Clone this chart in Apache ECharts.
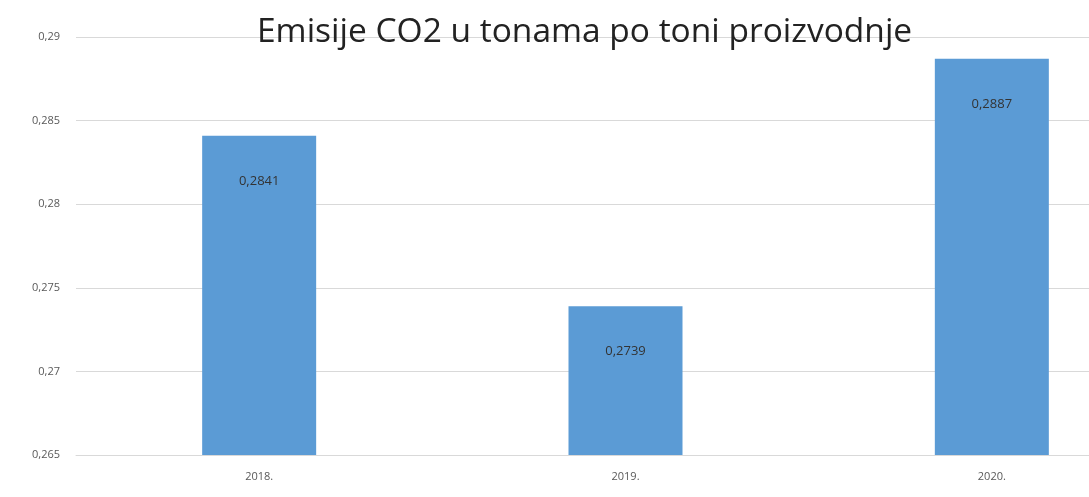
<!DOCTYPE html>
<html>
<head>
<meta charset="utf-8">
<script src="https://cdn.jsdelivr.net/npm/echarts@6/dist/echarts.min.js"></script>
<style>html,body{margin:0;padding:0;background:#fff;}#c{width:1089px;height:497px;}</style>
</head>
<body>
<div id="c"></div>
<script>
const categories = ['2018.', '2019.', '2020.'];
const values = [0.2841, 0.2739, 0.2887];
const titleText = 'Emisije CO2 u tonama po toni proizvodnje';

const fmt = v => String(v).replace('.', ',');
const chart = echarts.init(document.getElementById('c'));
chart.setOption({
  animation: false,
  backgroundColor: '#fff',
  title: {
    text: titleText,
    left: 252,
    top: 10,
    textStyle: { fontFamily: 'Open Sans', fontWeight: 'normal', fontSize: 33.5, color: '#222' }
  },
  grid: { left: 76, width: 1099, top: 37, bottom: 42, containLabel: false, outerBoundsMode: 'none' },
  xAxis: {
    type: 'category',
    data: categories,
    axisLine: { show: true, lineStyle: { color: '#d9d9d9' } },
    axisTick: { show: false },
    axisLabel: { color: '#595959', fontSize: 11, fontFamily: 'Open Sans', margin: 16 }
  },
  yAxis: {
    type: 'value',
    min: 0.265,
    max: 0.29,
    interval: 0.005,
    axisLine: { show: false },
    axisTick: { show: false },
    splitLine: { lineStyle: { color: '#d9d9d9' } },
    axisLabel: { color: '#595959', fontSize: 11, fontFamily: 'Open Sans', margin: 16, formatter: v => fmt(+v.toFixed(3)) }
  },
  series: [{
    type: 'bar',
    data: values,
    barWidth: 114,
    itemStyle: { color: '#5B9BD5' },
    label: {
      show: true,
      position: 'insideTop',
      distance: 39,
      color: '#333',
      fontSize: 13,
      fontFamily: 'Open Sans',
      formatter: p => fmt(p.value)
    }
  }]
});
</script>
</body>
</html>
